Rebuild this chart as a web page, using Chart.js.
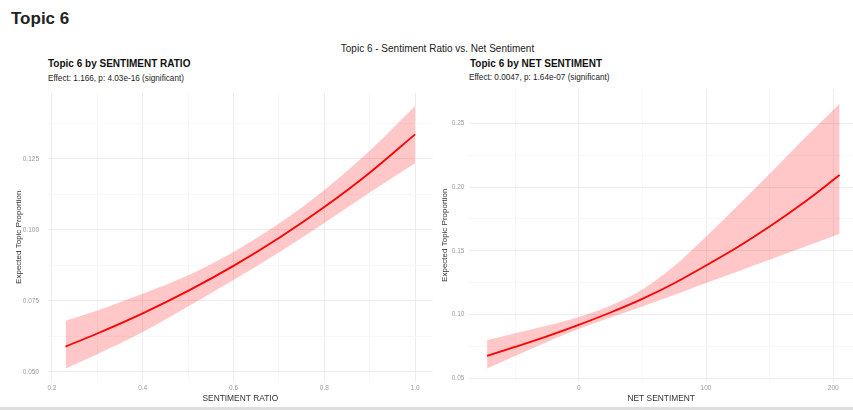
<!DOCTYPE html>
<html>
<head>
<meta charset="utf-8">
<script src="https://cdn.jsdelivr.net/npm/chart.js@4/dist/chart.umd.min.js"></script>
<style>
  html, body { margin: 0; padding: 0; background: #fff; width: 853px; height: 410px; overflow: hidden; }
  body { position: relative; font-family: "Liberation Sans", Arial, sans-serif; }
  .t { position: absolute; white-space: nowrap; line-height: 1; }
  canvas { position: absolute; }
</style>
</head>
<body>
<div class="t" id="mainTitle" style="left:11px; top:10px; font-size:17px; font-weight:bold; color:#222;"></div>
<div class="t" id="pairTitle" style="left:22px; width:831px; text-align:center; top:44px; font-size:10px; color:#222;"></div>
<div class="t" id="leftTitle" style="left:48px; top:59px; font-size:10px; font-weight:bold; color:#111;"></div>
<div class="t" id="leftSub" style="left:48px; top:75px; font-size:8.2px; color:#222;"></div>
<div class="t" id="rightTitle" style="left:470px; top:59px; font-size:10px; font-weight:bold; color:#111;"></div>
<div class="t" id="rightSub" style="left:469px; top:74px; font-size:8.2px; color:#222;"></div>
<canvas id="c1" width="440" height="330" style="left:0px; top:80px;"></canvas>
<canvas id="c2" width="433" height="330" style="left:420px; top:80px;"></canvas>
<div style="position:absolute; left:0; top:407px; width:853px; height:3px; background:#dedede;"></div>
<script>
// ---- Text ----
const mainTitle = "Topic 6";
const pairTitle = "Topic 6 - Sentiment Ratio vs. Net Sentiment";
const leftTitle = "Topic 6 by SENTIMENT RATIO";
const leftSub = "Effect: 1.166, p: 4.03e-16 (significant)";
const rightTitle = "Topic 6 by NET SENTIMENT";
const rightSub = "Effect: 0.0047, p: 1.64e-07 (significant)";
const yTitle = "Expected Topic Proportion";
const leftXTitle = "SENTIMENT RATIO";
const rightXTitle = "NET SENTIMENT";

// ---- Data: Sentiment ratio panel ----
const ratioX     = [0.23,   0.3,    0.4,    0.5,    0.6,    0.7,    0.8,    0.9,    1.0];
const ratioFit   = [0.0589, 0.0635, 0.0706, 0.0785, 0.0873, 0.0971, 0.1080, 0.1201, 0.1336];
const ratioUpper = [0.0680, 0.0716, 0.0775, 0.0840, 0.0922, 0.1022, 0.1140, 0.1278, 0.1436];
const ratioLower = [0.0512, 0.0562, 0.0640, 0.0730, 0.0823, 0.0920, 0.1024, 0.1131, 0.1234];

// ---- Data: Net sentiment panel ----
const netX     = [-72,    -50,    -25,    0,      25,     50,     75,     100,    125,    150,    175,    205];
const netFit   = [0.0675, 0.0745, 0.0828, 0.0918, 0.1015, 0.1122, 0.1245, 0.1385, 0.1530, 0.1690, 0.1865, 0.2095];
const netUpper = [0.0798, 0.0852, 0.0912, 0.0980, 0.1070, 0.1195, 0.1380, 0.1610, 0.1855, 0.2105, 0.2360, 0.2655];
const netLower = [0.0576, 0.0673, 0.0783, 0.0885, 0.0975, 0.1062, 0.1152, 0.1246, 0.1338, 0.1430, 0.1522, 0.1634];

// ---- Ticks ----
const ratioXTicks = [0.2, 0.4, 0.6, 0.8, 1.0];
const ratioXTickLabels = ["0.2", "0.4", "0.6", "0.8", "1.0"];
const ratioXMinor = [0.3, 0.5, 0.7, 0.9];
const ratioYTicks = [0.050, 0.075, 0.100, 0.125];
const ratioYTickLabels = ["0.050", "0.075", "0.100", "0.125"];
const ratioYMinor = [0.0625, 0.0875, 0.1125, 0.1375];

const netXTicks = [0, 100, 200];
const netXTickLabels = ["0", "100", "200"];
const netXMinor = [-50, 50, 150];
const netYTicks = [0.05, 0.10, 0.15, 0.20, 0.25];
const netYTickLabels = ["0.05", "0.10", "0.15", "0.20", "0.25"];
const netYMinor = [0.075, 0.125, 0.175, 0.225];

document.getElementById('mainTitle').textContent = mainTitle;
document.getElementById('pairTitle').textContent = pairTitle;
document.getElementById('leftTitle').textContent = leftTitle;
document.getElementById('leftSub').textContent = leftSub;
document.getElementById('rightTitle').textContent = rightTitle;
document.getElementById('rightSub').textContent = rightSub;

const FONT = "'Liberation Sans', Arial, sans-serif";
const MAJOR = '#ededed', MINOR = '#f8f8f8';

function pts(xs, ys) { return xs.map((x, i) => ({x: x, y: ys[i]})); }

function makeAxis(cfg) {
  const all = cfg.major.concat(cfg.minor).sort((a, b) => a - b);
  const isMajor = v => cfg.major.some(m => Math.abs(m - v) < 1e-9);
  return {
    type: 'linear',
    position: cfg.position,
    min: cfg.min, max: cfg.max,
    afterBuildTicks: s => { s.ticks = all.map(v => ({value: v})); },
    afterFit: s => { if (cfg.width != null) s.width = cfg.width; if (cfg.height != null) s.height = cfg.height; },
    border: { display: false },
    grid: {
      drawTicks: false,
      lineWidth: 1,
      color: ctx => (ctx.tick && isMajor(ctx.tick.value)) ? MAJOR : MINOR
    },
    ticks: {
      autoSkip: false,
      maxRotation: 0,
      padding: cfg.tickPad,
      color: '#9a9a9a',
      font: { family: FONT, size: 6.5 },
      callback: v => {
        const i = cfg.major.findIndex(m => Math.abs(m - v) < 1e-9);
        return i >= 0 ? cfg.labels[i] : '';
      }
    },
    title: {
      display: true,
      text: cfg.title,
      color: '#333',
      font: { family: FONT, size: cfg.titleSize },
      padding: cfg.titlePad
    }
  };
}

function makeChart(id, xs, fit, up, lo, xAxis, yAxis, padRight) {
  return new Chart(document.getElementById(id), {
    type: 'line',
    data: {
      datasets: [
        { data: pts(xs, fit), borderColor: '#ff0000', borderWidth: 1.8, pointRadius: 0, fill: false, cubicInterpolationMode: 'monotone' },
        { data: pts(xs, up), borderWidth: 0, borderColor: 'rgba(0,0,0,0)', pointRadius: 0, backgroundColor: 'rgba(255,0,0,0.22)', fill: '+1', cubicInterpolationMode: 'monotone' },
        { data: pts(xs, lo), borderWidth: 0, borderColor: 'rgba(0,0,0,0)', pointRadius: 0, fill: false, cubicInterpolationMode: 'monotone' }
      ]
    },
    options: {
      responsive: false,
      animation: false,
      devicePixelRatio: 1,
      layout: { padding: { top: 8, right: padRight, left: 0, bottom: 0 } },
      plugins: { legend: { display: false }, tooltip: { enabled: false } },
      scales: { x: xAxis, y: yAxis }
    }
  });
}

makeChart('c1', ratioX, ratioFit, ratioUpper, ratioLower,
  makeAxis({ position: 'bottom', min: 0.1914, max: 1.0385, major: ratioXTicks, minor: ratioXMinor, labels: ratioXTickLabels,
             height: 28.5, tickPad: 3, title: leftXTitle, titleSize: 8.4, titlePad: { top: 0, bottom: 6.5 } }),
  makeAxis({ position: 'left', min: 0.0466, max: 0.1482, major: ratioYTicks, minor: ratioYMinor, labels: ratioYTickLabels,
             width: 48, tickPad: 9, title: yTitle, titleSize: 8, titlePad: { top: 14, bottom: 0 } }),
  7.4);

makeChart('c2', netX, netFit, netUpper, netLower,
  makeAxis({ position: 'bottom', min: -85.9, max: 215.5, major: netXTicks, minor: netXMinor, labels: netXTickLabels,
             height: 28.5, tickPad: 3, title: rightXTitle, titleSize: 8.4, titlePad: { top: 0, bottom: 6.5 } }),
  makeAxis({ position: 'left', min: 0.0473, max: 0.2772, major: netYTicks, minor: netYMinor, labels: netYTickLabels,
             width: 49.4, tickPad: 5, title: yTitle, titleSize: 8, titlePad: { top: 19.6, bottom: 0 } }),
  0);
</script>
</body>
</html>
